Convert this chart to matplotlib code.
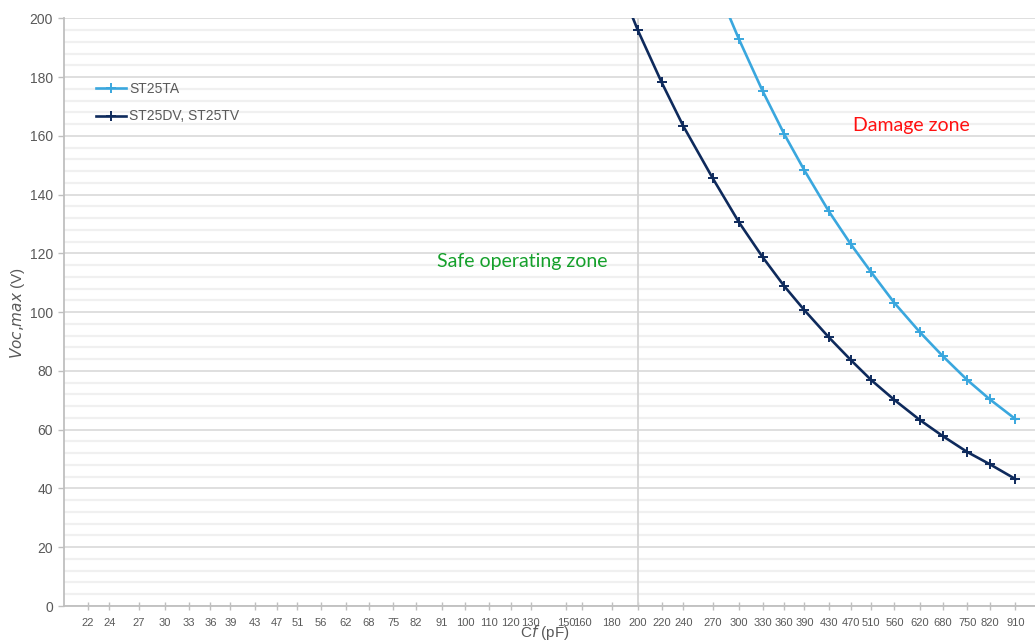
import matplotlib
matplotlib.use("Agg")
import matplotlib.pyplot as plt
from matplotlib.ticker import FixedLocator, MultipleLocator, NullLocator

# Standard capacitor values used on the x axis (pF)
tick_values = [22, 24, 27, 30, 33, 36, 39, 43, 47, 51, 56, 62, 68, 75, 82, 91,
               100, 110, 120, 130, 150, 160, 180, 200, 220, 240, 270, 300, 330,
               360, 390, 430, 470, 510, 560, 620, 680, 750, 820, 910]
tick_labels = [str(v) for v in tick_values]

# ST25TA maximum open-circuit voltage versus Cf
ta_cf = [270, 300, 330, 360, 390, 430, 470, 510, 560, 620, 680, 750, 820, 910]
ta_voc = [214, 192.9, 175.2, 160.5, 148.3, 134.4, 123.1, 113.6, 103.1, 93.2,
          85.0, 76.9, 70.4, 63.6]

# ST25DV / ST25TV maximum open-circuit voltage versus Cf
dv_cf = [180, 200, 220, 240, 270, 300, 330, 360, 390, 430, 470, 510, 560, 620,
         680, 750, 820, 910]
dv_voc = [218, 195.9, 178.2, 163.3, 145.6, 130.6, 118.7, 108.8, 100.7, 91.5,
          83.7, 76.9, 70.1, 63.3, 57.8, 52.4, 48.3, 43.2]

W, H = 1035, 642
fig = plt.figure(figsize=(W / 100, H / 100), dpi=100)
left, right, top, bottom = 64, 1039, 18.3, 606
ax = fig.add_axes([left / W, 1 - bottom / H, (right - left) / W, (bottom - top) / H])


def fx(px):
    return px / W


def fy(py):
    return 1 - py / H


grey_text = "#595959"
ta_color = "#3aa7de"
dv_color = "#0e2a5c"

ax.set_xscale("log")
ax.set_xlim(20, 1000)
ax.set_ylim(0, 200)

ax.xaxis.set_major_locator(FixedLocator(tick_values))
ax.xaxis.set_minor_locator(NullLocator())
ax.set_xticklabels(tick_labels)
ax.yaxis.set_major_locator(MultipleLocator(20))
ax.yaxis.set_minor_locator(MultipleLocator(4))

ax.grid(False, axis="x")
ax.grid(True, axis="y", which="major", color="#d9d9d9", linewidth=1.2)
ax.grid(True, axis="y", which="minor", color="#f0f0f0", linewidth=1.6)
ax.set_axisbelow(True)
ax.axvline(200, color="#d4d4d4", linewidth=1.3, zorder=1)

for side in ("top", "right"):
    ax.spines[side].set_visible(False)
for side in ("left", "bottom"):
    ax.spines[side].set_color("#bfbfbf")
    ax.spines[side].set_linewidth(1.3)

ax.tick_params(axis="x", which="major", direction="inout", length=6, width=1,
               color="#bfbfbf", labelsize=8, labelcolor=grey_text, pad=6)
ax.tick_params(axis="y", which="major", direction="out", length=4, width=1,
               color="#bfbfbf", labelsize=10, labelcolor=grey_text, pad=4)
ax.tick_params(axis="y", which="minor", length=0)
for lbl in ax.get_xticklabels() + ax.get_yticklabels():
    lbl.set_fontfamily("Liberation Sans")

ax.plot(ta_cf, ta_voc, color=ta_color, linewidth=1.9, marker="+",
        markersize=7, markeredgewidth=1.4, label="ST25TA", zorder=3)
ax.plot(dv_cf, dv_voc, color=dv_color, linewidth=1.9, marker="+",
        markersize=7, markeredgewidth=1.4, label="ST25DV, ST25TV", zorder=3)

leg = ax.legend(loc="upper left",
                bbox_to_anchor=((90 - left) / (right - left), 1 - (76 - top) / (bottom - top)),
                frameon=False, handlelength=2.2, handletextpad=0.2,
                labelspacing=1.0, borderaxespad=0,
                prop={"family": "Liberation Sans", "size": 10})
for t in leg.get_texts():
    t.set_color(grey_text)

fig.text(fx(522), fy(262), "Safe operating zone", color="#15a02b",
         fontsize=14, fontfamily="Lato", ha="center", va="center")
fig.text(fx(911), fy(125), "Damage zone", color="#ff1010", fontsize=14,
         fontfamily="Lato", ha="center", va="center")

fig.text(fx(545), fy(633), r"C$\it{f}$ (pF)", color=grey_text, fontsize=11,
         fontfamily="Liberation Sans", ha="center", va="center")
fig.text(fx(18), fy(313), r"$\it{Voc{,}max}$ (V)", color=grey_text,
         fontsize=11, fontfamily="Liberation Sans", rotation=90,
         ha="center", va="center")

fig.savefig("out.png", dpi=100)
